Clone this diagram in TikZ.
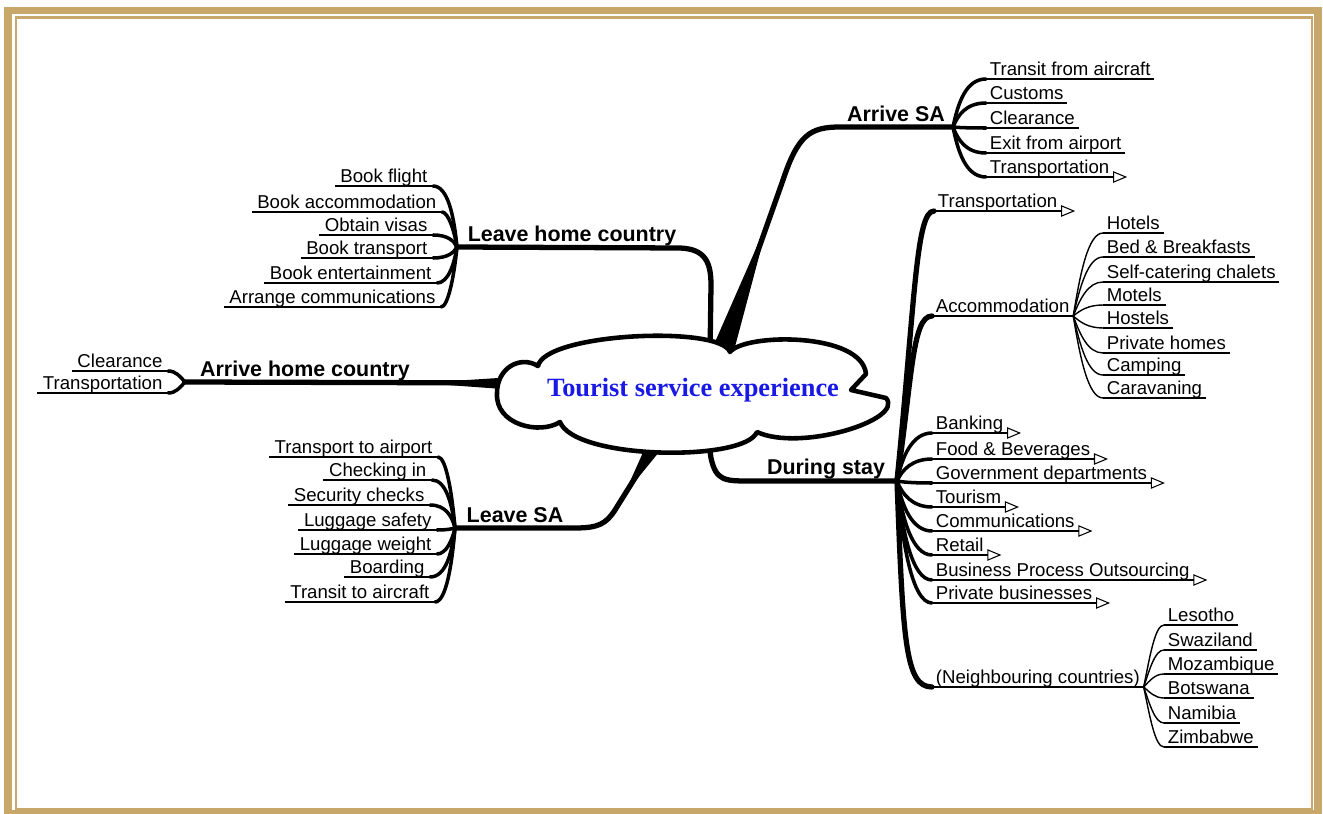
\documentclass[tikz,border=0pt]{standalone}
\usepackage{fontspec}
\setmainfont{Liberation Sans}
\newfontfamily\corefont{Liberation Serif}
\usetikzlibrary{arrows.meta}
\usetikzlibrary{backgrounds}
\usetikzlibrary{calc}
\definecolor{gold}{RGB}{200,168,106}
\definecolor{coreblue}{RGB}{25,25,230}
\tikzset{limb/.style={line width=3pt,line cap=round,line join=round},
  twig/.style={line width=2pt,line cap=round},
  vein/.style={line width=0.8pt},
  uline/.style={line width=1.2pt},
  ulinetip/.style={line width=1.2pt,-{Triangle[open,length=8pt,width=6.5pt,line width=0.6pt]}},
  leaf/.style={font=\fontsize{10.6}{12}\selectfont,text depth=0pt,inner xsep=2pt,inner ysep=2pt,anchor=south west},
  leafl/.style={leaf,anchor=south east,inner xsep=3pt},
  stage/.style={font=\bfseries\fontsize{12.2}{14}\selectfont,text depth=0pt,inner sep=2pt,anchor=south}}

\begin{document}
\begin{tikzpicture}[x=0.02cm,y=-0.02cm]
\useasboundingbox (0,0) rectangle (1323,814);
% frame
\draw[gold,line width=4pt] (8,10.5) rectangle (1318,813.5);
\draw[gold,line width=1.4pt] (16,17.5) rectangle (1312,809);

% cloud
\draw[line width=2.6pt,line join=round,fill=white] (497,393)
  .. controls (497,368) and (520,355) .. (538,366)
  .. controls (545,333) and (720,325) .. (730,352)
  .. controls (745,333) and (862,332) .. (866,374)
  -- (851,390) -- (886,398)
  .. controls (905,420) and (800,452) .. (757,432)
  .. controls (745,462) and (575,460) .. (560,422)
  .. controls (540,435) and (495,425) .. cycle;
\node (core) [text=coreblue, font=\corefont\bfseries\fontsize{15}{17}\selectfont] at (693,390) {Tourist service experience};

\coordinate (hA) at (953,127);
\coordinate (hL) at (457,247);
\coordinate (hH) at (185,382);
\coordinate (hS) at (455,528);
\coordinate (hD) at (897,481);

% main branches, tucked under the cloud
\begin{scope}[on background layer]
\draw[limb] ($(core.center)+(27,-32)$) -- (783,180) .. controls (798,135) and (810,127) .. (840,127) -- (hA);
\fill ($(core.center)+(15,-32)$) -- ($(core.center)+(39,-32)$) -- (769,219) -- cycle;
\draw[limb] ($(core.center)+(17,-35)$) -- (711,285) .. controls (711,262) and (705,249) .. (680,248) -- (hL);
\draw[limb] ($(core.center)+(-163,-7)$) -- (hH);
\fill ($(core.center)+(-163,-14)$) -- ($(core.center)+(-163,1)$) -- (420,383) -- cycle;
\draw[limb] ($(core.center)+(-28,40)$) -- (615,510) .. controls (606,524) and (598,528) .. (575,528) -- (hS);
\fill ($(core.center)+(-40,40)$) -- ($(core.center)+(-16,40)$) -- (624,495) -- cycle;
\draw[limb] ($(core.center)+(14,40)$) -- (711,458) .. controls (716,481) and (725,481) .. (750,481) -- (hD);
\end{scope}

\node[stage] (arriveSA) at (896,125) {Arrive SA};
\node[stage] (leaveHome) at (572,245) {Leave home country};
\node[stage] (arriveHome) at (305,380) {Arrive home country};
\node[stage] (leaveSA) at (515,526) {Leave SA};
\node[stage] (during) at (826,478) {During stay};

% arrive SA
\foreach \t/\y [count=\i] in {Transit from aircraft/79, Customs/103, Clearance/128, Exit from airport/153}{
  \node[leaf] (sa\i) at (986,\y) {\t};
  \draw[twig] (hA) .. controls (958,{(127+\y)/2}) and (966,\y) .. (sa\i.south west);
  \draw[uline] (sa\i.south west) -- (sa\i.south east);
}
\node[leaf] (sa5) at (986,177) {Transportation};
\draw[twig] (hA) .. controls (958,152) and (966,177) .. (sa5.south west);
\draw[ulinetip] (sa5.south west) -- ([xshift=8pt]sa5.south east);

% leave home country
\foreach \t/\x/\y [count=\i] in {Book flight/433/186, Book accommodation/442/212, Obtain visas/433/235, Book transport/433/258, Book entertainment/437/283, Arrange communications/441/307}{
  \node[leafl] (lh\i) at (\x,\y) {\t};
  \draw[twig] (hL) .. controls (454,{(247+\y)/2}) and (448,\y) .. (lh\i.south east);
  \draw[uline] (lh\i.south west) -- (lh\i.south east);
}

% arrive home country
\foreach \t/\y [count=\i] in {Clearance/371, Transportation/393}{
  \node[leafl] (ah\i) at (168,\y) {\t};
  \draw[twig] (hH) .. controls (180,{(382+\y)/2}) and (176,\y) .. (ah\i.south east);
  \draw[uline] (ah\i.south west) -- (ah\i.south east);
}

% leave SA
\foreach \t/\x/\y [count=\i] in {Transport to airport/438/457, Checking in/432/480, Security checks/430/505, Luggage safety/437/530, Luggage weight/437/554, Boarding/430/577, Transit to aircraft/435/602}{
  \node[leafl] (ls\i) at (\x,\y) {\t};
  \draw[twig] (hS) .. controls (452,{(528+\y)/2}) and (446,\y) .. (ls\i.south east);
  \draw[uline] (ls\i.south west) -- (ls\i.south east);
}

% during stay
\node[leaf] (dT) at (934,211) {Transportation};
\draw[limb] (hD) .. controls (915,300) and (916,211) .. (dT.south west);
\draw[ulinetip] (dT.south west) -- ([xshift=8pt]dT.south east);

\node[leaf] (dA) at (932,316) {Accommodation};
\draw[limb] (hD) .. controls (912,380) and (912,316) .. (dA.south west);
\draw[uline] (dA.south west) -- (dA.south east);
\foreach \t/\y [count=\i] in {Hotels/233, Bed \& Breakfasts/257, Self-catering chalets/282, Motels/305, Hostels/328, Private homes/353, Camping/375, Caravaning/398}{
  \node[leaf] (ac\i) at (1103,\y) {\t};
  \draw[vein] (dA.south east) .. controls (1080,{(316+\y)/2}) and (1088,\y) .. (ac\i.south west);
  \draw[uline] (ac\i.south west) -- (ac\i.south east);
}

\foreach \t/\y [count=\i] in {Banking/433, Food \& Beverages/459, Government departments/483, Tourism/507, Communications/531, Retail/555, Business Process Outsourcing/580, Private businesses/603}{
  \node[leaf] (ds\i) at (932,\y) {\t};
  \draw[twig] (hD) .. controls (902,{(481+\y)/2}) and (912,\y) .. (ds\i.south west);
  \draw[ulinetip] (ds\i.south west) -- ([xshift=8pt]ds\i.south east);
}

\node[leaf] (dN) at (932,687) {(Neighbouring countries)};
\draw[limb] (hD) .. controls (903,640) and (905,687) .. (dN.south west);
\draw[uline] (dN.south west) -- (dN.south east);
\foreach \t/\y [count=\i] in {Lesotho/625, Swaziland/650, Mozambique/674, Botswana/698, Namibia/723, Zimbabwe/747}{
  \node[leaf] (nb\i) at (1164,\y) {\t};
  \draw[vein] (dN.south east) .. controls (1150,{(687+\y)/2}) and (1155,\y) .. (nb\i.south west);
  \draw[uline] (nb\i.south west) -- (nb\i.south east);
}
\end{tikzpicture}
\end{document}
